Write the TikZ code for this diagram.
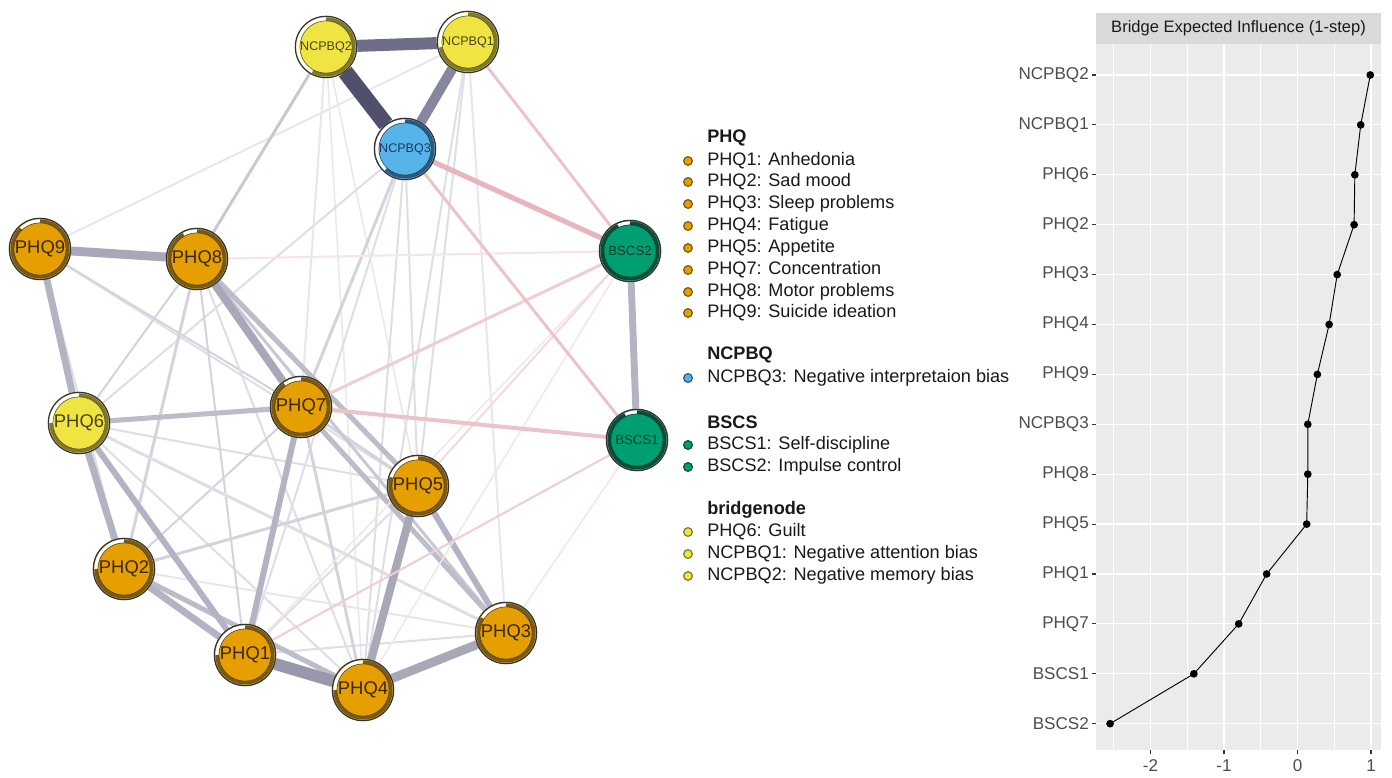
\documentclass[tikz,border=0pt]{standalone}
\usepackage{fontspec}
\setmainfont{Liberation Sans}
\pgfdeclarelayer{back}
\pgfdeclarelayer{edges}
\pgfsetlayers{back,edges,main}
\definecolor{cOr}{HTML}{E69F00}
\definecolor{cYe}{HTML}{F0E442}
\definecolor{cBl}{HTML}{56B4E9}
\definecolor{cGr}{HTML}{009E73}
\definecolor{dOr}{HTML}{7A5A12}
\definecolor{dYe}{HTML}{7E7A2A}
\definecolor{dBl}{HTML}{2A5A82}
\definecolor{dGr}{HTML}{0B4D36}
\definecolor{tOr}{HTML}{3A2800}
\definecolor{tYe}{HTML}{4A4510}
\definecolor{tBl}{HTML}{17396A}
\definecolor{tGr}{HTML}{0A3A28}
\definecolor{pA}{HTML}{50506C}
\definecolor{pB}{HTML}{6E6E88}
\definecolor{pC}{HTML}{86869E}
\definecolor{pD}{HTML}{9898AC}
\definecolor{pE}{HTML}{A8A8B9}
\definecolor{pF}{HTML}{B3B3C3}
\definecolor{pG}{HTML}{BDBDCA}
\definecolor{pH}{HTML}{C8C8D4}
\definecolor{pI}{HTML}{D3D3DD}
\definecolor{pJ}{HTML}{DEDEE6}
\definecolor{pK}{HTML}{E7E7ED}
\definecolor{nA}{HTML}{E8B5BC}
\definecolor{nB}{HTML}{ECC3C8}
\definecolor{nC}{HTML}{EFCDD2}
\definecolor{nD}{HTML}{F2DADE}
\definecolor{nE}{HTML}{F5E5E7}
\definecolor{panelbg}{HTML}{EBEBEB}
\definecolor{stripbg}{HTML}{D9D9D9}
\definecolor{axtxt}{HTML}{4D4D4D}
\definecolor{axtick}{HTML}{333333}
\newcommand\myring[3]{%
  \draw[white, line width=2.6pt] (#1.center) circle (21pt);
  \draw[#3, line width=2.6pt] (#1.center) ++(90:21pt) arc[start angle=90, end angle={90-360*#2}, radius=21pt];
  \draw[#3!60!black, line width=0.4pt] (#1.center) circle (19.6pt);
  \draw[black!80, line width=0.9pt] (#1.center) circle (23pt);
}
\begin{document}
\begin{tikzpicture}[x=0.75pt,y=0.75pt,
  nd/.style={circle, minimum size=46.5pt, inner sep=0pt},
  big/.style={font=\fontsize{13.8}{14}\selectfont},
  small/.style={font=\fontsize{9.4}{10}\selectfont},
  mid/.style={font=\fontsize{9.9}{10}\selectfont},
  orn/.style={nd, fill=cOr, text=tOr},
  yen/.style={nd, fill=cYe, text=tYe},
  bln/.style={nd, fill=cBl, text=tBl},
  grn/.style={nd, fill=cGr, text=tGr},
  lgtext/.style={anchor=west, inner sep=0pt, text=black!90, font=\fontsize{13.6}{14}\selectfont},
  lghead/.style={lgtext, font=\fontsize{13.6}{14}\selectfont\bfseries},
  lgdot/.style={circle, minimum size=6.5pt, inner sep=0pt, line width=0.9pt},
  ylab/.style={anchor=east, inner sep=0pt, text=axtxt, font=\fontsize{12.8}{13}\selectfont},
  xlab/.style={anchor=center, inner sep=0pt, text=axtxt, font=\fontsize{12.8}{13}\selectfont},
  tickln/.style={draw=axtick, line width=0.8pt}
]
\useasboundingbox (0,0) rectangle (1392,778);
\begin{pgfonlayer}{back}
\fill[white] (0,0) rectangle (1392,778);
\end{pgfonlayer}

% ---------------- network nodes ----------------
\node[yen, small] (NCPBQ2) at (326,731) {NCPBQ2};
\node[yen, small] (NCPBQ1) at (468,736) {NCPBQ1};
\node[bln, small] (NCPBQ3) at (405,629) {NCPBQ3};
\node[grn, mid] (BSCS2) at (630,527) {BSCS2};
\node[grn, mid] (BSCS1) at (637,338) {BSCS1};
\node[orn, big] (PHQ9) at (40,529) {PHQ9};
\node[orn, big] (PHQ8) at (197,519) {PHQ8};
\node[yen, big] (PHQ6) at (79,355) {PHQ6};
\node[orn, big] (PHQ7) at (301,371) {PHQ7};
\node[orn, big] (PHQ5) at (418,292) {PHQ5};
\node[orn, big] (PHQ2) at (124,209) {PHQ2};
\node[orn, big] (PHQ1) at (245,123) {PHQ1};
\node[orn, big] (PHQ4) at (363,88) {PHQ4};
\node[orn, big] (PHQ3) at (506,145) {PHQ3};

\myring{NCPBQ2}{0.58}{dYe}
\myring{NCPBQ1}{0.72}{dYe}
\myring{NCPBQ3}{0.62}{dBl}
\myring{BSCS2}{0.93}{dGr}
\myring{BSCS1}{0.93}{dGr}
\myring{PHQ9}{0.88}{dOr}
\myring{PHQ8}{0.92}{dOr}
\myring{PHQ6}{0.75}{dYe}
\myring{PHQ7}{0.9}{dOr}
\myring{PHQ5}{0.8}{dOr}
\myring{PHQ2}{0.75}{dOr}
\myring{PHQ1}{0.75}{dOr}
\myring{PHQ4}{0.75}{dOr}
\myring{PHQ3}{0.84}{dOr}

% ---------------- network edges ----------------
\begin{pgfonlayer}{edges}
\foreach \a/\b/\w/\c in {
  NCPBQ1/PHQ9/1.5/pK, NCPBQ2/PHQ4/1.1/pK, NCPBQ2/PHQ5/1.1/pK, NCPBQ2/PHQ7/1.5/pK,
  NCPBQ1/PHQ3/1.5/pK, NCPBQ1/PHQ4/1.5/pJ, NCPBQ1/PHQ5/1.5/pJ,
  NCPBQ3/PHQ5/1.5/pJ, NCPBQ3/PHQ4/1.5/pJ, NCPBQ3/PHQ1/1.5/pJ, NCPBQ3/PHQ6/1.5/pJ,
  PHQ9/PHQ2/1.5/pJ, PHQ9/PHQ5/1.5/pJ, PHQ9/PHQ7/1.5/pI, PHQ8/PHQ4/1.5/pJ,
  PHQ6/PHQ4/1.5/pJ, PHQ6/PHQ5/1.5/pJ, PHQ2/PHQ3/1.5/pK, PHQ1/PHQ3/1.5/pJ,
  PHQ1/PHQ5/1.5/pJ, PHQ7/PHQ2/1.5/pI, PHQ8/PHQ6/1.5/pI, PHQ8/PHQ1/1.5/pI,
  PHQ8/PHQ2/2.2/pI, PHQ7/PHQ5/2.2/pI, PHQ6/PHQ3/2.2/pJ, PHQ2/PHQ5/2.2/pI,
  PHQ8/PHQ3/2.2/pH, PHQ7/PHQ4/2.2/pI, NCPBQ2/PHQ8/2.2/pH, NCPBQ3/PHQ7/2.2/pI,
  PHQ7/PHQ3/3.8/pG, PHQ7/PHQ1/4.5/pF, PHQ5/PHQ3/4.5/pF, PHQ2/PHQ4/3.8/pG,
  PHQ6/PHQ7/3.8/pG, PHQ6/PHQ1/4.5/pF, PHQ8/PHQ5/3.8/pG, PHQ6/PHQ2/5.2/pF,
  PHQ2/PHQ1/5.2/pF, PHQ9/PHQ6/5.2/pF, PHQ8/PHQ7/6/pE, PHQ4/PHQ5/6/pE,
  PHQ4/PHQ3/6.7/pE, PHQ9/PHQ8/6.7/pE, BSCS2/BSCS1/5.2/pF, PHQ1/PHQ4/9/pD,
  BSCS2/PHQ8/1.5/nE, BSCS2/PHQ4/1.1/nE, BSCS1/PHQ3/1.1/nE, BSCS2/PHQ1/1.1/nE,
  BSCS2/PHQ5/1.5/nD, PHQ1/BSCS1/1.5/nC, PHQ7/BSCS2/2.2/nC, NCPBQ1/BSCS2/2.2/nB,
  NCPBQ3/BSCS1/2.2/nB, PHQ7/BSCS1/3/nB, NCPBQ3/BSCS2/3.8/nA,
  NCPBQ1/NCPBQ3/7.5/pC, NCPBQ2/NCPBQ1/9/pB, NCPBQ2/NCPBQ3/12/pA}
  \draw[line width=\w pt, draw=\c] (\a) -- (\b);
\end{pgfonlayer}

% ---------------- legend ----------------
\node[lghead] (hPHQ) at (707,640) {PHQ};
\foreach \t/\yy [count=\k] in {PHQ1: Anhedonia/617, PHQ2: Sad mood/596, PHQ3: Sleep problems/574, PHQ4: Fatigue/552, PHQ5: Appetite/530, PHQ7: Concentration/508, PHQ8: Motor problems/486, PHQ9: Suicide ideation/465}{
  \node[lgdot, fill=cOr, draw=dOr] (ldA\k) at (688,\yy) {};
  \node[lgtext] (ltA\k) at (707,\yy) {\t};
}
\node[lghead] (hNC) at (707,423) {NCPBQ};
\node[lgdot, fill=cBl, draw=dBl] (ldB1) at (688,400) {};
\node[lgtext] (ltB1) at (707,400) {NCPBQ3: Negative interpretaion bias};
\node[lghead] (hBS) at (707,356) {BSCS};
\node[lgdot, fill=cGr, draw=dGr] (ldC1) at (688,333) {};
\node[lgtext] (ltC1) at (707,333) {BSCS1: Self-discipline};
\node[lgdot, fill=cGr, draw=dGr] (ldC2) at (688,311) {};
\node[lgtext] (ltC2) at (707,311) {BSCS2: Impulse control};
\node[lghead] (hBr) at (707,268) {bridgenode};
\node[lgdot, fill=cYe, draw=dYe] (ldD1) at (688,246) {};
\node[lgtext] (ltD1) at (707,246) {PHQ6: Guilt};
\node[lgdot, fill=cYe, draw=dYe] (ldD2) at (688,224) {};
\node[lgtext] (ltD2) at (707,224) {NCPBQ1: Negative attention bias};
\node[lgdot, fill=cYe, draw=dYe] (ldD3) at (688,202) {};
\node[lgtext] (ltD3) at (707,202) {NCPBQ2: Negative memory bias};

% ---------------- right plot ----------------
\fill[stripbg] (1096,734) rectangle (1381,765);
\node[inner sep=0pt, text=black!90, font=\fontsize{12.4}{13}\selectfont] (strip) at (1238.5,749.5) {Bridge Expected Influence (1-step)};
\fill[panelbg] (1096,28) rectangle (1381,734);
\foreach \v in {-2.5,-1.5,-0.5,0.5}{
  \draw[white, line width=0.45pt] ({1297.5+73.5*\v},28) -- ({1297.5+73.5*\v},734);
}
\foreach \v in {-2,-1,0,1}{
  \draw[white, line width=0.9pt] ({1297.5+73.5*\v},28) -- ({1297.5+73.5*\v},734);
  \draw[tickln] ({1297.5+73.5*\v},28) -- ({1297.5+73.5*\v},24);
  \node[xlab] (xl\v) at ({1297.5+73.5*\v},12) {\v};
}
\foreach \lab/\v [count=\i from 0] in {NCPBQ2/0.99, NCPBQ1/0.86, PHQ6/0.78, PHQ2/0.77, PHQ3/0.54, PHQ4/0.43, PHQ9/0.27, NCPBQ3/0.14, PHQ8/0.14, PHQ5/0.125, PHQ1/-0.42, PHQ7/-0.80, BSCS1/-1.41, BSCS2/-2.55}{
  \pgfmathsetmacro\yy{703-49.9*\i}
  \pgfmathsetmacro\xx{1297.5+73.5*\v}
  \draw[white, line width=0.9pt] (1096,\yy) -- (1381,\yy);
  \draw[tickln] (1092,\yy) -- (1096,\yy);
  \node[ylab] (yl\i) at (1089,\yy) {\lab};
  \coordinate (pt\i) at (\xx,\yy);
}
\draw[black, line width=0.7pt] (pt0) -- (pt1) -- (pt2) -- (pt3) -- (pt4) -- (pt5) -- (pt6) -- (pt7) -- (pt8) -- (pt9) -- (pt10) -- (pt11) -- (pt12) -- (pt13);
\foreach \i in {0,...,13}{
  \fill[black] (pt\i) circle (2.9pt);
}
\end{tikzpicture}
\end{document}
